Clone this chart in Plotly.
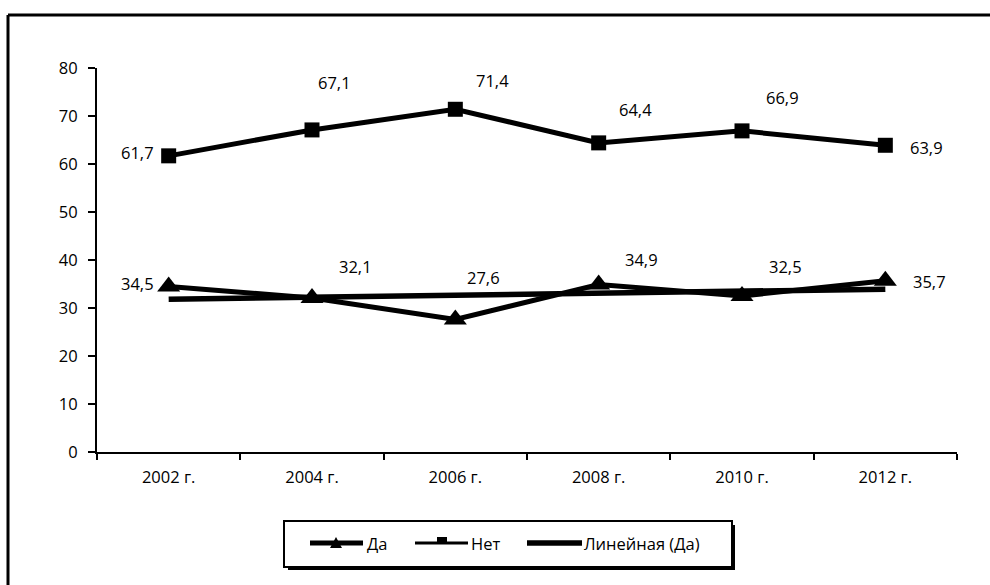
import numpy as np
import plotly.graph_objects as go

# Survey years and shares of answers (%)
years = ["2002 г.", "2004 г.", "2006 г.", "2008 г.", "2010 г.", "2012 г."]
da = [34.5, 32.1, 27.6, 34.9, 32.5, 35.7]
net = [61.7, 67.1, 71.4, 64.4, 66.9, 63.9]

# Label offsets in pixels (x, y) for each point
net_offsets = [(-31, 3), (22, 47), (37, 29), (37, 33), (40, 33), (41, -2)]
da_offsets = [(-31, 3), (43, 31), (28, 42), (43, 25), (43, 30), (44, -1)]

# Linear trend of "Да"
xi = np.arange(1, len(da) + 1)
slope, intercept = np.polyfit(xi, da, 1)
trend = list(slope * xi + intercept)

FONT = "Open Sans"
FS = 16.5

# Plot-area geometry in pixels (used to place frame and legend)
W, H = 990, 585
ML, MR, MT, MB = 97, 33, 68, 133
PW, PH = W - ML - MR, H - MT - MB


def px(x):
    return (x - ML) / PW


def py(y):
    return (H - MB - y) / PH


fig = go.Figure()
fig.add_trace(go.Scatter(
    x=years, y=da, name="Да", mode="lines+markers",
    line=dict(color="black", width=5),
    marker=dict(symbol="triangle-up", size=20, color="black"),
))
fig.add_trace(go.Scatter(
    x=years, y=net, name="Нет", mode="lines+markers",
    line=dict(color="black", width=5),
    marker=dict(symbol="square", size=15, color="black"),
))
fig.add_trace(go.Scatter(
    x=years, y=trend, name="Линейная (Да)", mode="lines",
    line=dict(color="black", width=5.5),
))


def fmt(v):
    return f"{v:.1f}".replace(".", ",")


for series, offs in ((net, net_offsets), (da, da_offsets)):
    for yr, v, (dx, dy) in zip(years, series, offs):
        fig.add_annotation(x=yr, y=v, text=fmt(v), showarrow=False,
                           xshift=dx, yshift=dy,
                           font=dict(family=FONT, size=FS, color="black"))

# Outer frame (left and top edges)
fig.add_shape(type="line", xref="paper", yref="paper",
              x0=px(8), x1=px(1000), y0=py(15), y1=py(15),
              line=dict(color="black", width=3))
fig.add_shape(type="line", xref="paper", yref="paper",
              x0=px(8), x1=px(8), y0=py(600), y1=py(15),
              line=dict(color="black", width=3))

# Legend: shadow, box, samples and labels
fig.add_shape(type="rect", xref="paper", yref="paper",
              x0=px(288), x1=px(735), y0=py(570), y1=py(525),
              fillcolor="black", line=dict(width=0))
fig.add_shape(type="rect", xref="paper", yref="paper",
              x0=px(284), x1=px(732), y0=py(567), y1=py(521),
              fillcolor="white", line=dict(color="black", width=2))

ly = 543
# "Да" sample
fig.add_shape(type="line", xref="paper", yref="paper",
              x0=px(310), x1=px(363), y0=py(ly), y1=py(ly),
              line=dict(color="black", width=5))
fig.add_shape(type="path", xref="paper", yref="paper",
              path=f"M {px(330)},{py(548)} L {px(342)},{py(548)} "
                   f"L {px(336)},{py(537)} Z",
              fillcolor="black", line=dict(width=0))
# "Нет" sample
fig.add_shape(type="line", xref="paper", yref="paper",
              x0=px(415), x1=px(468), y0=py(ly), y1=py(ly),
              line=dict(color="black", width=3))
fig.add_shape(type="rect", xref="paper", yref="paper",
              x0=px(437), x1=px(447), y0=py(544), y1=py(537),
              fillcolor="black", line=dict(width=0))
# "Линейная (Да)" sample
fig.add_shape(type="line", xref="paper", yref="paper",
              x0=px(527), x1=px(582), y0=py(ly), y1=py(ly),
              line=dict(color="black", width=5.5))

for label, x0 in (("Да", 365), ("Нет", 469), ("Линейная (Да)", 582)):
    fig.add_annotation(xref="paper", yref="paper", x=px(x0), y=py(ly),
                       xanchor="left", yanchor="middle", showarrow=False,
                       text=label, font=dict(family=FONT, size=FS, color="black"))

fig.update_layout(
    width=W, height=H,
    margin=dict(l=ML, r=MR, t=MT, b=MB),
    paper_bgcolor="white", plot_bgcolor="white",
    font=dict(family=FONT, size=FS, color="black"),
    showlegend=False,
    xaxis=dict(type="category", range=[-0.5, len(years) - 0.5],
               tickson="boundaries", ticks="outside",
               ticklen=6, tickwidth=2, tickcolor="black",
               ticklabelstandoff=9,
               showline=True, linecolor="black", linewidth=2,
               showgrid=False, zeroline=False),
    yaxis=dict(range=[0, 80], dtick=10, ticks="outside", ticklen=7,
               tickwidth=2, tickcolor="black",
               ticklabelstandoff=7,
               showline=True, linecolor="black", linewidth=2,
               showgrid=False, zeroline=False),
)

fig.write_html("out.html")
